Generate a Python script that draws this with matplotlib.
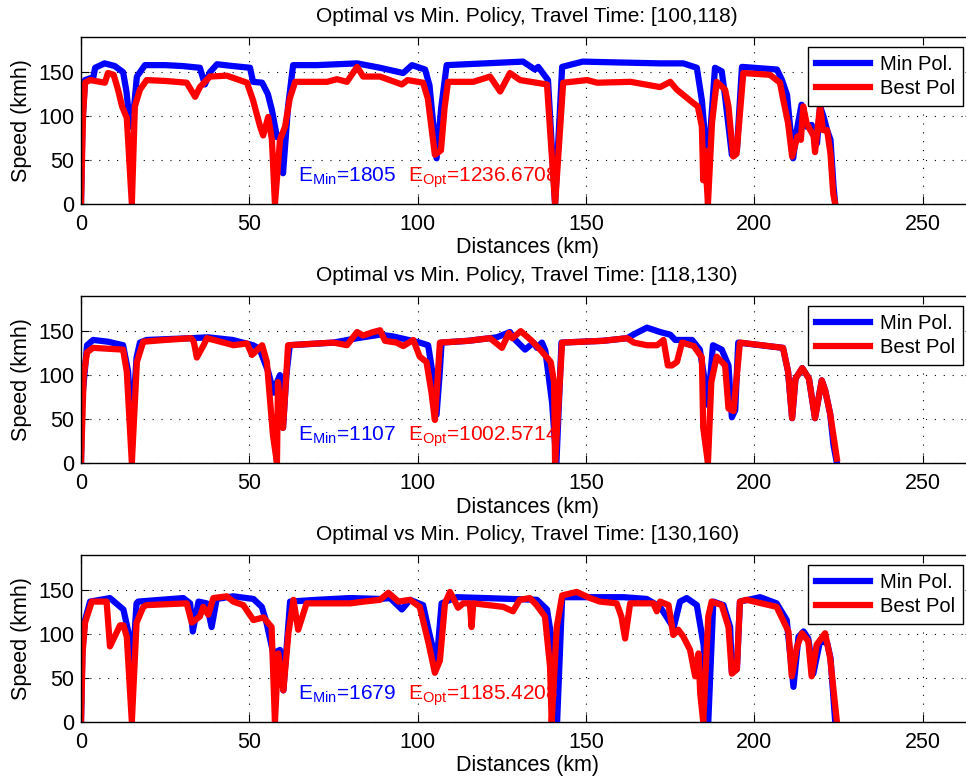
import matplotlib
matplotlib.use("Agg")
import matplotlib.pyplot as plt
from matplotlib.ticker import MultipleLocator

plt.rcParams['font.family'] = ['Liberation Sans', 'DejaVu Sans']
plt.rcParams['mathtext.fontset'] = 'custom'
plt.rcParams['mathtext.rm'] = 'Liberation Sans'
plt.rcParams['mathtext.it'] = 'Liberation Sans'

# ---------------- data ----------------
titles = ["Optimal vs Min. Policy, Travel Time: [100,118)",
          "Optimal vs Min. Policy, Travel Time: [118,130)",
          "Optimal vs Min. Policy, Travel Time: [130,160)"]
e_min = ["1805", "1107", "1679"]
e_opt = ["1236.6708", "1002.5714", "1185.4208"]

min1_x = [0, 0.4, 1.2, 2.7, 3.5, 4.2, 7, 10, 12.5, 13.5, 14.6, 15.5, 16.6, 19, 25, 30, 35.3, 36.8, 38.3, 40.4, 45,
          50.2, 51.1, 53.8, 55.5, 56.7, 58.2, 59.1, 60, 61.5, 63, 70, 82, 88.8, 95.7, 98.3, 102.2, 103.5, 105.6, 107,
          108.6, 120, 131.3, 134.8, 135.8, 138.7, 140.8, 142.9, 149, 160, 172, 178.9, 182.9, 184.4, 185.9, 186.5,
          188.3, 190.3, 191.3, 193.3, 194.8, 196.3, 206.7, 208.2, 209.7, 211.5, 212.5, 214, 215.5, 217, 218.6, 219.5,
          220.5, 221.6, 222.6, 223.5, 224]
min1_y = [0, 90, 141, 143, 141, 155, 160, 157, 150, 128, 88, 100, 145, 158, 158, 157, 155, 136, 150, 159, 157,
          155, 139, 138, 125, 107, 76, 78, 35, 111, 158, 158, 160, 155, 149, 158, 153, 135, 52, 110,
          158, 160, 162, 153, 156, 141, 0, 156, 162, 161, 160, 160, 155, 118, 50, 60,
          155, 151, 122, 56, 61, 156, 153, 141, 124, 52, 82, 113, 88, 90, 69, 111,
          100, 84, 73, 20, 0]
opt1_x = [0, 0.6, 1.2, 2.7, 7.1, 8, 9.7, 11, 12.2, 13.6, 15.1, 16, 17.5, 19.5, 25, 31.4, 33.9, 35.3, 38.3, 43.3,
          49.3, 51.1, 53.2, 54.1, 55.6, 56.7, 57.6, 59.1, 60.6, 62, 63.6, 70, 73.1, 76, 79, 82, 83.8, 88.8, 95.3, 97,
          101.6, 103, 105.1, 106.9, 108, 109, 116.5, 121.5, 124.5, 127.4, 130.4, 138.4, 140.8, 143.2, 150.3, 153.3,
          163.2, 172, 175, 177, 181.8, 183.2, 184.4, 184.8, 185.3, 186.2, 187.4, 188.8, 191.3, 192.3, 193.7, 194.7,
          196.7, 204.6, 207.6, 208.5, 210, 211.2, 212.8, 213.8, 214.5, 215.5, 217.6, 218, 219.5, 220.4, 221.6, 222.6,
          223.4, 224]
opt1_y = [0, 100, 138, 141, 138, 149, 147, 130, 111, 98, 0, 111, 130, 141, 140, 138, 122, 133, 145, 146,
          138, 118, 88, 78, 99, 73, 0, 73, 88, 120, 139, 139, 139, 142, 139, 156, 145, 145, 136, 141,
          138, 120, 56, 61, 110, 139, 139, 145, 128, 149, 141, 136, 0, 138, 141, 138,
          139, 133, 139, 130, 115, 111, 88, 27, 61, 0, 92, 139, 130, 111, 54, 57,
          149, 147, 138, 120, 92, 54, 77, 73, 111, 92, 77, 59, 111, 84, 84, 57,
          12, 0]

min2_x = [0, 0.3, 1.8, 3.6, 8, 12.5, 14, 15, 15.5, 16.5, 17.5, 19.5, 32.7, 37.7, 45, 51.1, 53, 55.6, 57.2, 58, 59.1,
          60, 61, 62, 75, 82, 88.8, 92.7, 100.6, 103.1, 104.5, 105.6, 106.5, 107.1, 115, 123.5, 127.4, 129, 131.9,
          134.4, 135.4, 136.9, 137.9, 139.9, 141.2, 142.7, 155, 162.2, 165, 168.1, 172, 175, 176.5, 181.5, 183.8,
          185, 186.2, 187.7, 190.3, 192.3, 193.3, 194.3, 195.2, 208.5, 210, 211.2, 212.2, 214.2, 216.2, 218, 220,
          221, 222.5, 223.5, 224.5]
min2_y = [0, 70, 134, 140, 138, 134, 104, 40, 60, 120, 137, 140, 142, 143, 140, 134, 130, 104, 80, 90, 100,
          40, 100, 134, 137, 142, 146, 144, 137, 134, 100, 55, 100, 137, 139, 143, 149, 140, 129,
          137, 131, 137, 128, 69, 0, 137, 139, 142, 148, 154, 149, 146, 140, 140, 129,
          100, 66, 134, 129, 111, 52, 60, 137, 131, 104, 51, 96, 108, 96, 51, 94,
          83, 56, 20, 0]
opt2_x = [0, 0.8, 1.8, 3.6, 12.5, 13.6, 15.1, 16.6, 18.5, 25, 32.7, 33.5, 34.4, 36.4, 37.4, 39.4, 45.3, 49.3, 50.8,
          53.8, 55.2, 57, 58.2, 58.5, 60, 61.5, 75, 79, 82, 83.8, 86.8, 88.8, 90.3, 93.7, 95.7, 98.7, 100.6, 102.6,
          104.1, 105.1, 106.6, 115, 121.5, 125, 127.1, 128.1, 130.6, 133.6, 136.6, 139.5, 140.5, 140.8, 142.9, 155,
          162.2, 164.2, 168.1, 171.1, 173, 174.3, 175.5, 177, 178.5, 182, 184.4, 184.8, 186.2, 187.2, 188.8, 191.3,
          192.3, 193.8, 195.7, 208.5, 210, 211.2, 212.2, 214.2, 216.2, 218, 220, 221, 222.5, 224.5]
opt2_y = [0, 100, 126, 131, 129, 104, 0, 115, 138, 140, 142, 138, 120, 134, 142, 140, 134, 136, 123,
          134, 115, 32, 0, 92, 40, 134, 137, 134, 149, 145, 149, 151, 139, 137, 133, 140, 121, 115,
          80, 49, 137, 139, 142, 131, 148, 142, 150, 140, 128, 115, 92, 0, 137, 139,
          142, 137, 134, 134, 140, 111, 111, 115, 137, 133, 120, 40, 0, 92, 121, 111,
          62, 59, 137, 131, 104, 51, 96, 108, 96, 51, 94, 83, 56, 5]

min3_x = [0, 0.4, 1.2, 2.7, 8.6, 12.6, 14.6, 15.2, 16.5, 17, 30.4, 32.4, 33.2, 34.9, 37.3, 38.8, 40.3, 45.2, 51.2,
          53.7, 55.1, 57.1, 59.1, 60.1, 62.1, 70, 80, 88.8, 91.8, 95.3, 97.7, 101.6, 103.5, 105.6, 107.1, 111.6, 120,
          135.4, 138.4, 140.3, 141.4, 142.9, 149.3, 161.2, 168, 172, 176, 177.9, 179.9, 182.9, 184.9, 186.3, 187.8,
          190.8, 192.8, 193.3, 194.8, 195.7, 201.7, 206.6, 209.6, 211.6, 213.1, 214.6, 216, 217.5, 219.5, 221.6,
          222.6, 224]
min3_y = [0, 80, 116, 137, 141, 128, 93, 60, 135, 137, 141, 135, 103, 137, 135, 108, 140, 143, 140,
          131, 113, 78, 82, 36, 137, 139, 141, 140, 141, 128, 139, 133, 100, 67, 135, 142, 141,
          139, 128, 82, 0, 142, 142, 142, 140, 131, 107, 137, 141, 133, 88, 0, 137,
          133, 108, 57, 60, 137, 142, 135, 116, 40, 97, 103, 95, 55, 92, 90,
          73, 0]
opt3_x = [0, 0.5, 1.2, 3.2, 7.6, 8.6, 11.6, 12.6, 13.6, 15.1, 16.5, 18.5, 19.5, 31.4, 32.9, 35.3, 36.3, 37.8, 39.3,
          43.3, 45.2, 48.2, 51.2, 54.2, 56.6, 57.6, 58.6, 60.1, 61.6, 63.1, 64.5, 67, 73, 80, 84, 88.8, 91.3, 94.3,
          97.7, 100.6, 103.2, 105.1, 106.6, 108.1, 109.6, 112, 113.5, 115.5, 116, 116.5, 125.4, 128.3, 130.3, 133.3,
          135.3, 137.8, 139.3, 139.8, 141.3, 142.9, 147.2, 151.2, 154.1, 159.1, 160.5, 161.6, 163.1, 170, 171, 172,
          174.5, 175.9, 177.4, 178.9, 180.9, 182.4, 183.4, 183.9, 184.8, 186.3, 187.3, 190.3, 192.3, 193.3, 194.8,
          195.7, 197.7, 206.6, 210.1, 211.1, 212.6, 214.1, 216, 217, 218.5, 221, 222.5, 224.5]
opt3_y = [0, 80, 113, 137, 137, 86, 110, 110, 97, 0, 113, 131, 133, 135, 113, 120, 131, 122, 141,
          143, 137, 133, 116, 119, 108, 0, 78, 36, 101, 139, 105, 135, 135, 135, 137, 139, 147, 137,
          139, 131, 90, 56, 70, 135, 148, 130, 135, 135, 108, 135, 131, 126, 139, 141,
          133, 120, 63, 0, 108, 144, 148, 141, 137, 135, 120, 95, 135, 135, 126, 137,
          133, 99, 105, 97, 82, 52, 78, 33, 0, 120, 137, 133, 108, 55, 60,
          137, 139, 131, 103, 52, 85, 101, 92, 52, 88, 101, 73, 0]

series = [(min1_x, min1_y, opt1_x, opt1_y),
          (min2_x, min2_y, opt2_x, opt2_y),
          (min3_x, min3_y, opt3_x, opt3_y)]

# ---------------- figure ----------------
W, H = 966, 780
fig = plt.figure(figsize=(W / 100, H / 100), dpi=100)

left_px = 81
px_per_km = 3.367
xmax = 265
bottoms_px = [204, 463, 722]
ax_h_px = 167
FS = 15.5

for i, (mx, my, ox, oy) in enumerate(series):
    b = bottoms_px[i]
    ax = fig.add_axes([left_px / W, (H - b) / H, xmax * px_per_km / W, ax_h_px / H])
    ax.plot(mx, my, color=(0, 0, 1), lw=4.5, label='Min Pol.', solid_joinstyle='round')
    ax.plot(ox, oy, color=(1, 0, 0), lw=4.5, label='Best Pol', solid_joinstyle='round')
    ax.set_xlim(0, xmax)
    ax.set_ylim(0, 190)
    ax.xaxis.set_major_locator(MultipleLocator(50))
    ax.yaxis.set_major_locator(MultipleLocator(50))
    ax.tick_params(which='both', direction='in', top=True, right=True, labelsize=FS, colors='black')
    ax.tick_params(which='major', length=6, width=0.8)
    ax.tick_params(axis='x', pad=7)
    ax.tick_params(axis='y', pad=5)
    ax.grid(True, which='major', color='black', linestyle=(0, (1, 7)), linewidth=0.8)
    for s in ax.spines.values():
        s.set_linewidth(1.0)
        s.set_color('black')
    ax.set_title(titles[i], fontsize=FS - 0.5, pad=11)
    ax.set_xlabel('Distances (km)', fontsize=FS, labelpad=2)
    ax.set_ylabel('Speed (kmh)', fontsize=FS, labelpad=4)
    ax.text(64.5, 25, r'E$_{\mathrm{Min}}$=' + e_min[i], color=(0, 0, 1), fontsize=FS - 0.5, va='baseline')
    ax.text(97.2, 25, r'E$_{\mathrm{Opt}}$=' + e_opt[i], color=(1, 0, 0), fontsize=FS - 0.5, va='baseline')
    leg = ax.legend(loc='upper right', bbox_to_anchor=(0.989, 0.94), borderaxespad=0,
                    fancybox=False, edgecolor='black', framealpha=1, fontsize=FS - 1,
                    handlelength=2.7, handletextpad=0.5, borderpad=0.4, labelspacing=0.25)
    leg.get_frame().set_linewidth(1.0)

fig.savefig('out.png', dpi=100)
